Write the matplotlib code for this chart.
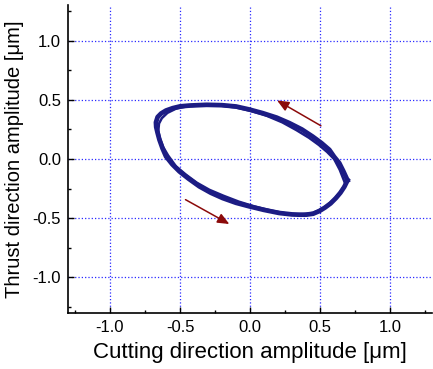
#!/usr/bin/env python3

import numpy as np
import matplotlib
matplotlib.use("Agg")
import matplotlib.pyplot as plt
from matplotlib.ticker import MultipleLocator

# Orbit traces (cutting / thrust amplitude, um)
cut_loop1 = [0.696, 0.665, 0.637, 0.60, 0.566, 0.51, 0.447, 0.37, 0.28, 0.19,
             0.09, -0.01, -0.10, -0.20, -0.31, -0.43, -0.50, -0.552, -0.60, -0.635,
             -0.66, -0.672, -0.67, -0.66, -0.647, -0.625, -0.60, -0.555, -0.504, -0.44,
             -0.362, -0.28, -0.195, -0.10, -0.005, 0.10, 0.209, 0.30, 0.352, 0.40,
             0.45, 0.494, 0.535, 0.575, 0.613, 0.645, 0.673, 0.696]
thr_loop1 = [-0.18, -0.10, -0.034, 0.02, 0.078, 0.135, 0.19, 0.25, 0.304, 0.35,
             0.388, 0.42, 0.444, 0.455, 0.458, 0.452, 0.445, 0.43, 0.41, 0.385,
             0.355, 0.31, 0.27, 0.22, 0.163, 0.09, 0.022, -0.045, -0.105, -0.165,
             -0.231, -0.285, -0.33, -0.37, -0.40, -0.43, -0.456, -0.468, -0.47, -0.47,
             -0.462, -0.44, -0.41, -0.375, -0.33, -0.285, -0.235, -0.18]

cut_loop2 = [0.68, 0.64, 0.60, 0.55, 0.49, 0.42, 0.33, 0.23, 0.12, 0.01,
             -0.10, -0.22, -0.33, -0.45, -0.53, -0.59, -0.63, -0.65, -0.655, -0.645,
             -0.62, -0.585, -0.53, -0.46, -0.38, -0.29, -0.19, -0.08, 0.03, 0.15,
             0.26, 0.36, 0.45, 0.53, 0.60, 0.65, 0.68]
thr_loop2 = [-0.21, -0.09, 0.0, 0.06, 0.12, 0.18, 0.245, 0.31, 0.365, 0.405,
             0.435, 0.452, 0.455, 0.445, 0.425, 0.39, 0.345, 0.30, 0.24, 0.18,
             0.10, 0.03, -0.06, -0.13, -0.20, -0.26, -0.31, -0.36, -0.40, -0.435,
             -0.46, -0.47, -0.455, -0.41, -0.34, -0.27, -0.21]

# direction arrows: (tail, head)
arrow_tails = [(0.506, 0.281), (-0.461, -0.343)]
arrow_heads = [(0.193, 0.495), (-0.148, -0.549)]

ticks = [-1.0, -0.5, 0.0, 0.5, 1.0]
tick_labels = ["-1.0", "-0.5", "0.0", "0.5", "1.0"]

plt.rcParams['font.family'] = ['Liberation Sans', 'DejaVu Sans']

fig = plt.figure(figsize=(4.33, 3.69), dpi=100)
ax = fig.add_axes([0.157, 0.152, 0.841, 0.834])

line_color = '#1c1c84'
ax.plot(cut_loop1, thr_loop1, color=line_color, lw=3.4, solid_joinstyle='round', zorder=3)
ax.plot(cut_loop2, thr_loop2, color=line_color, lw=1.8, solid_joinstyle='round', zorder=3)

for tail, head in zip(arrow_tails, arrow_heads):
    ax.annotate("", xy=head, xytext=tail,
                arrowprops=dict(arrowstyle='-|>,head_length=0.7,head_width=0.3',
                                color='#8b0a0a', lw=1.1, shrinkA=0, shrinkB=0))

ax.set_xlim(-1.3, 1.3)
ax.set_ylim(-1.3, 1.3)
ax.set_xticks(ticks)
ax.set_xticklabels(tick_labels)
ax.set_yticks(ticks)
ax.set_yticklabels(tick_labels)
ax.xaxis.set_minor_locator(MultipleLocator(0.25))
ax.yaxis.set_minor_locator(MultipleLocator(0.25))

ax.grid(True, which='major', color='#2a2aff', linestyle=':', lw=0.9)
ax.set_axisbelow(True)

for side in ['top', 'right']:
    ax.spines[side].set_visible(False)
for side in ['left', 'bottom']:
    ax.spines[side].set_linewidth(1.2)

ax.tick_params(which='major', direction='in', length=4, width=1, labelsize=12, pad=5)
ax.tick_params(which='minor', direction='in', length=2.5, width=1)

ax.set_xlabel("Cutting direction amplitude [\u03bcm]", fontsize=16, labelpad=5)
ax.set_ylabel("Thrust direction amplitude [\u03bcm]", fontsize=14.5, labelpad=6)

fig.savefig("out.png", dpi=100)
